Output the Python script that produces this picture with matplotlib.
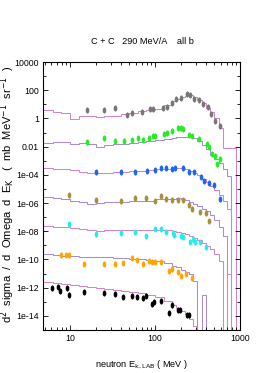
import matplotlib
matplotlib.use('Agg')
import matplotlib.pyplot as plt
import numpy as np
from matplotlib.path import Path
from matplotlib.transforms import Affine2D
from matplotlib.ticker import FixedLocator, FixedFormatter, NullFormatter

# bin edges of the model histograms (MeV)
edges = [4.8, 6.3, 7.9, 10, 12.6, 15.8, 20, 25, 31.6, 40, 50, 63, 79, 100, 126, 158,
         178, 200, 224, 251, 282, 316, 355, 398, 447, 501, 562, 631, 708, 794, 891, 1000]

# each series is shown multiplied by 10^(-2k)
scales = [1, 1e-2, 1e-4, 1e-6, 1e-8, 1e-10, 1e-12]
point_colors = ['#777777', '#22ee22', '#1f66ee', '#a88f3c', '#22eeee', '#ffa500', '#000000']
model_colors = ['#d884c4', '#a98bd2', '#d884c4', '#a98bd2', '#d884c4', '#a98bd2', '#d884c4']

# data points (unscaled)
gray_e = [15.8, 25, 34, 47, 53.5, 70, 87, 95, 124, 138, 158, 177, 202, 238, 258, 287, 330, 367, 420, 455, 508, 582]
gray_v = [4.2, 3.7, 5.5, 1.8, 2.6, 2.8, 4.4, 4.4, 5.5, 6.5, 12.3, 23, 30, 52, 44, 25.5, 19, 11.3, 6.5, 2.2, 0.64, 0.27]

green_e = [15.8, 25, 34, 43, 53.5, 63, 72, 85, 95, 100, 128, 138, 158, 186, 202, 213, 250, 270, 330, 410, 430, 470, 510, 580, 540]
green_v = [2.3, 3.9, 2.7, 2.7, 3.0, 3.9, 3.2, 4.2, 5.5, 6.1, 8.1, 9.5, 13.8, 21.8, 21.8, 18.3, 6.9, 6.1, 3.5, 1.56, 0.89, 0.30, 0.23, 0.13, 0.058]

blue_e = [20, 39.5, 58, 80, 100, 118, 135, 159, 172, 213, 250, 290, 350, 375, 430, 500, 580]
blue_v = [1.63, 1.63, 1.48, 1.93, 2.2, 2.9, 2.9, 2.55, 2.9, 3.2, 1.63, 1.48, 0.72, 0.37, 0.28, 0.18, 0.021]

brown_e = [9.8, 20, 39.5, 58, 78, 100, 117, 135, 157, 184, 213, 250, 270, 337, 397, 428]
brown_v = [3.7, 1.6, 1.4, 2.2, 2.4, 1.4, 3.2, 2.1, 1.55, 1.6, 1.55, 0.72, 0.38, 0.22, 0.19, 0.056]

cyan_e = [9.8, 20, 39.5, 58, 79, 100, 117, 135, 161, 169, 200, 213, 258, 279, 295, 337, 397]
cyan_v = [3.3, 0.69, 0.72, 0.89, 0.44, 1.5, 1.45, 0.92, 0.72, 0.58, 0.47, 0.37, 0.16, 0.28, 0.17, 0.16, 0.079]

orange_e = [7.8, 8.9, 9.8, 14.5, 24.9, 33.8, 42.3, 54, 62, 73, 85, 91, 99, 117, 146, 158, 184, 202, 233, 270]
orange_v = [1.94, 2.1, 2.1, 0.45, 0.45, 0.49, 0.54, 1.22, 0.9, 0.48, 0.72, 0.7, 0.69, 0.65, 0.15, 0.2, 0.128, 0.07, 0.098, 0.049]

black_e = [6.2, 7.3, 7.7, 9.1, 9.8, 14.5, 24.9, 33.8, 42.3, 54, 62, 73, 78, 91, 98, 118, 146, 157, 184, 197, 236, 254]
black_v = [1.0, 1.18, 0.6, 1.0, 0.30, 0.52, 0.39, 0.35, 0.22, 0.26, 0.22, 0.19, 0.26, 0.069, 0.1, 0.118, 0.016, 0.058, 0.028, 0.028, 0.011, 0.011]

# model histograms (unscaled), one value per bin
gray_m = [3.7, 2.7, 2.5, 0.85, 1.6, 1.4, 1.2, 1.5, 1.6, 1.9, 2.3, 3.2, 4.1, 4.8, 8.5, 16,
          23, 32, 40, 44, 34, 21, 12, 5.6, 2.7, 1.0, 0.2, 0.0085, 0.0085, 0.0085, 0]
green_m = [1.95, 2.3, 2.3, 1.6, 1.8, 1.6, 1.0, 1.4, 1.5, 1.6, 1.95, 2.3, 2.7, 3.2, 3.7, 4.4,
           4.6, 4.9, 5.2, 4.8, 4.1, 2.7, 1.4, 0.72, 0.27, 0.14, 0.072, 0.027, 0.0085, 0, 0]
blue_m = [3.2, 2.7, 2.5, 2.3, 1.6, 1.4, 1.3, 1.4, 1.5, 1.6, 1.8, 1.9, 2.3, 2.5, 2.7, 2.9,
          3.0, 2.9, 2.6, 1.9, 1.4, 0.92, 0.52, 0.29, 0.16, 0.085, 0.037, 0.014, 0.0037, 0, 0]
brown_m = [2.7, 2.3, 1.9, 1.5, 1.2, 0.85, 1.0, 1.1, 1.1, 1.2, 1.3, 1.4, 1.5, 1.8, 1.9, 2.1,
           2.2, 2.1, 1.6, 1.2, 0.85, 0.61, 0.41, 0.27, 0.14, 0.061, 0.019, 0.0044, 0, 0, 0]
cyan_m = [2.5, 2.1, 1.9, 1.6, 1.4, 1.2, 1.1, 1.2, 1.2, 1.2, 1.3, 1.3, 1.3, 1.3, 1.2, 1.1,
          0.92, 0.78, 0.61, 0.44, 0.32, 0.23, 0.15, 0.092, 0.052, 0.023, 0.0072, 0, 0.001, 0, 0]
orange_m = [2.5, 2.1, 1.9, 1.8, 1.6, 1.6, 1.5, 1.4, 1.3, 1.2, 1.1, 1.0, 0.92, 0.78, 0.52, 0.34,
            0.27, 0.19, 0.14, 0.1, 0.03, 0, 0.0032, 0, 0, 0, 0, 0, 0, 0, 0]
black_m = [2.5, 2.1, 1.8, 1.5, 1.3, 1.1, 0.92, 0.85, 0.72, 0.61, 0.52, 0.41, 0.32, 0.23, 0.12, 0.061,
           0.037, 0.023, 0.014, 0.0061, 0.0019, 0, 0, 0, 0, 0, 0, 0, 0, 0, 0]

points = [(gray_e, gray_v), (green_e, green_v), (blue_e, blue_v), (brown_e, brown_v),
          (cyan_e, cyan_v), (orange_e, orange_v), (black_e, black_v)]
models = [gray_m, green_m, blue_m, brown_m, cyan_m, orange_m, black_m]

ytick_vals = [1e4, 1e2, 1, 1e-2, 1e-4, 1e-6, 1e-8, 1e-10, 1e-12, 1e-14]
ytick_labels = ['10000', '100', '1', '0.01', '1e-04', '1e-06', '1e-08', '1e-10', '1e-12', '1e-14']
xtick_vals = [10, 100, 1000]
xtick_labels = ['10', '100', '1000']

narrow = ['Liberation Sans Narrow', 'Liberation Sans', 'DejaVu Sans']

fig = plt.figure(figsize=(2.66, 3.73), dpi=100)
ax = fig.add_axes([43 / 266, 1 - 330 / 373, 197 / 266, 268 / 373])

ell = Path.unit_circle().transformed(Affine2D().scale(0.6, 1.0))

for k in range(7):
    m = np.array(models[k], dtype=float) * scales[k]
    m[m <= 0] = 1e-40
    ax.stairs(m, edges, baseline=None, color=model_colors[k], lw=0.75)
for k in range(7):
    e, v = points[k]
    ax.plot(e, np.array(v) * scales[k], ls='none', marker=ell, ms=4.4, mew=0,
            color=point_colors[k])

ax.set_xscale('log')
ax.set_yscale('log')
ax.set_xlim(4.8, 1000)
ax.set_ylim(1e-15, 1e4)

ax.yaxis.set_major_locator(FixedLocator(ytick_vals))
ax.yaxis.set_major_formatter(FixedFormatter(ytick_labels))
ax.yaxis.set_minor_locator(FixedLocator([10.0 ** p for p in range(-15, 5, 2)]))
ax.yaxis.set_minor_formatter(NullFormatter())
ax.xaxis.set_major_locator(FixedLocator(xtick_vals))
ax.xaxis.set_major_formatter(FixedFormatter(xtick_labels))
minors = [d * 10.0 ** p for p in range(0, 3) for d in range(2, 10)]
ax.xaxis.set_minor_locator(FixedLocator([t for t in minors if t > 4.8]))
ax.xaxis.set_minor_formatter(NullFormatter())

ax.tick_params(which='both', direction='in', top=True, right=True, width=0.6)
ax.tick_params(which='major', length=3.5, labelsize=6.3, pad=3)
ax.tick_params(which='minor', length=2)
for lab in ax.get_xticklabels() + ax.get_yticklabels():
    lab.set_family(narrow)
for s in ax.spines.values():
    s.set_linewidth(0.8)

fig.text(142 / 266, 1 - 42 / 373, 'C + C   290 MeV/A    all b', ha='center', va='center',
         fontsize=6.6, family=narrow)
fig.text(142 / 266, 1 - 365 / 373, r'neutron E$_{\rm k,LAB}$ ( MeV )', ha='center', va='center',
         fontsize=6.6, family=narrow)
fig.text(8 / 266, 1 - 194 / 373,
         r'd$^2$  sigma  /  d  Omega  d  E$_{\rm K}$   (  mb  MeV$^{-1}$  sr$^{-1}$  )',
         rotation=90, ha='center', va='center', fontsize=8.0, family=['Liberation Sans', 'DejaVu Sans'])

fig.savefig('out.png', dpi=100)
